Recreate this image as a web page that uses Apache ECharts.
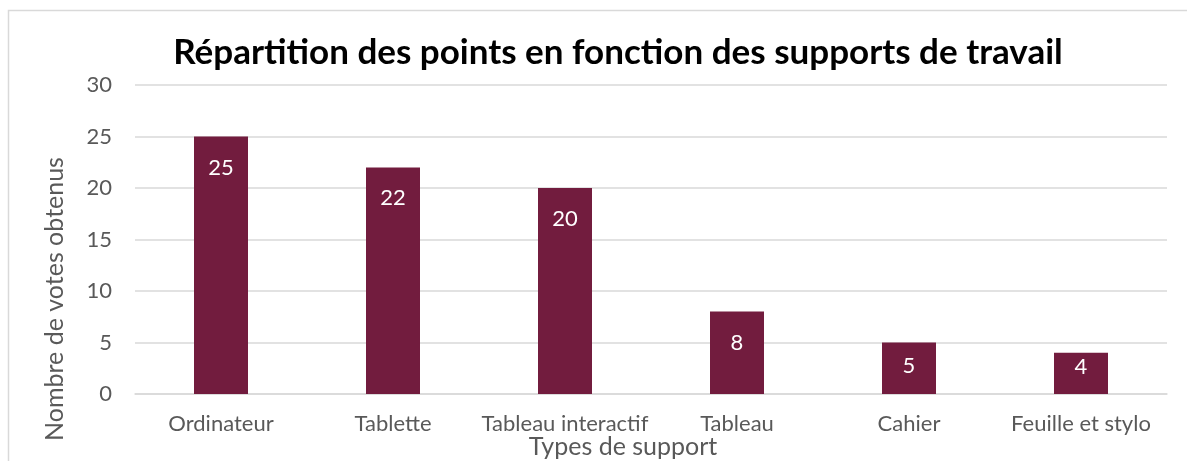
<!DOCTYPE html>
<html>
<head>
<meta charset="utf-8">
<script src="https://cdn.jsdelivr.net/npm/echarts@6/dist/echarts.min.js"></script>
<style>
  html, body { margin: 0; padding: 0; background: #fff; }
  #chart { width: 1187px; height: 461px; }
</style>
</head>
<body>
<div id="chart"></div>
<script>
// données
const categories = ['Ordinateur', 'Tablette', 'Tableau interactif', 'Tableau', 'Cahier', 'Feuille et stylo']
const votes = [25, 22, 20, 8, 5, 4]
const yTicks = { min: 0, max: 30, interval: 5 }

// écart étiquette / haut de barre (les petites barres ont l'étiquette remontée)
const labelGap = [20, 20, 20, 20, 12, 3]

const FONT = 'Lato, "Open Sans", sans-serif'
const BAR = '#721C3E'
const GREY = '#595959'

const chart = echarts.init(document.getElementById('chart'), null, { renderer: 'canvas' })

chart.setOption({
  animation: false,
  title: {
    text: 'Répartition des points en fonction des supports de travail',
    left: 613, top: 30, textAlign: 'center',
    textStyle: { fontFamily: FONT, fontWeight: 'bold', fontSize: 35, color: '#000' },
  },
  grid: { left: 135, right: 20, top: 85, bottom: 67, containLabel: false },
  xAxis: {
    type: 'category',
    data: categories,
    axisLine: { lineStyle: { color: '#d9d9d9', width: 1.5 } },
    axisTick: { show: false },
    axisLabel: { interval: 0, color: GREY, fontFamily: FONT, fontSize: 22, margin: 19 },
  },
  yAxis: {
    type: 'value',
    min: yTicks.min, max: yTicks.max, interval: yTicks.interval,
    axisLine: { show: false },
    axisTick: { show: false },
    axisLabel: { color: GREY, fontFamily: FONT, fontSize: 22, margin: 23 },
    splitLine: { lineStyle: { color: '#d9d9d9', width: 1.5 } },
  },
  graphic: [
    { type: 'rect', shape: { x: 8.5, y: 10.5, width: 1300, height: 600 }, style: { fill: 'none', stroke: '#d9d9d9', lineWidth: 1.5 }, z: -1 },
    { type: 'text', x: 55, y: 299, rotation: Math.PI / 2,
      style: { text: 'Nombre de votes obtenus', fill: GREY, font: '25px ' + FONT, align: 'center', verticalAlign: 'middle' } },
    { type: 'text', x: 623, y: 447,
      style: { text: 'Types de support', fill: GREY, font: '25px ' + FONT, align: 'center', verticalAlign: 'middle' } },
  ],
  series: [{
    type: 'bar',
    data: votes.map((v, i) => ({ value: v, label: { distance: labelGap[i] } })),
    barWidth: 54,
    itemStyle: { color: BAR },
    label: {
      show: true, position: 'insideTop', distance: 20,
      color: '#fff', fontFamily: FONT, fontSize: 22,
    },
  }],
})
</script>
</body>
</html>
